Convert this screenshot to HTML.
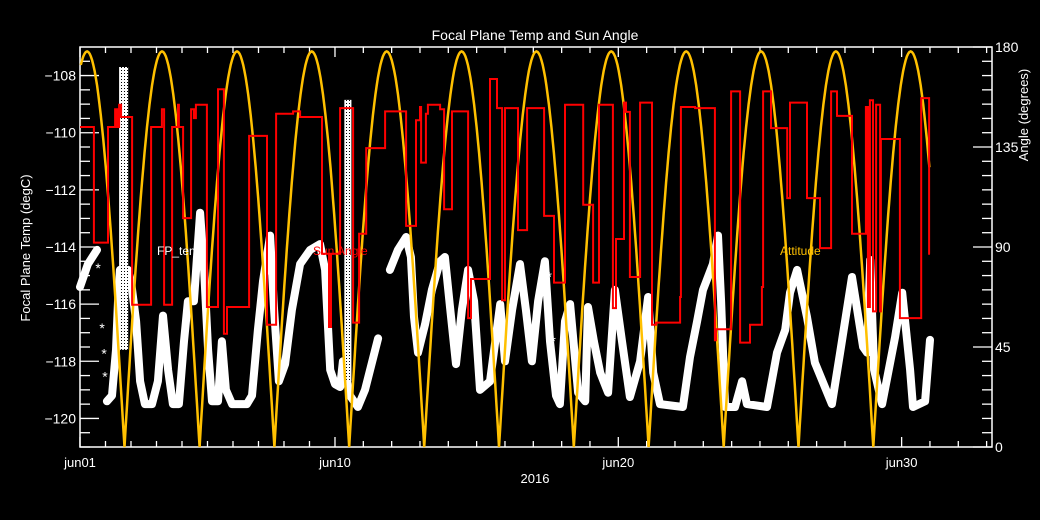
<!DOCTYPE html>
<html><head><meta charset="utf-8">
<style>
html,body{margin:0;padding:0;background:#000;}
svg{display:block;font-family:"Liberation Sans",sans-serif;}
</style></head>
<body>
<svg id="chart" width="1040" height="520" viewBox="0 0 1040 520" xmlns="http://www.w3.org/2000/svg">
<defs>
<pattern id="speck" width="3" height="3" patternUnits="userSpaceOnUse">
<rect width="3" height="3" fill="#fff"/><rect x="1" y="1" width="1" height="1" fill="#000"/>
</pattern>
</defs>
<rect x="0" y="0" width="1040" height="520" fill="#000"/>
<text x="535" y="40" fill="#fff" font-size="14" text-anchor="middle">Focal Plane Temp and Sun Angle</text>
<text x="535" y="483" fill="#fff" font-size="13" text-anchor="middle">2016</text>
<text transform="translate(30,248) rotate(-90)" fill="#fff" font-size="13" text-anchor="middle">Focal Plane Temp (degC)</text>
<text transform="translate(1028,115) rotate(-90)" fill="#fff" font-size="13" text-anchor="middle">Angle (degrees)</text>
<g id="axes"></g>
<g id="marks"></g>
<text x="157" y="255" fill="#fff" font-size="12">FP_temp</text>
<text x="313" y="255" fill="#ff0000" font-size="12">Sun Angle</text>
<text x="780" y="255" fill="#ffc000" font-size="12">Attitude</text>
</svg>
<script>
// ---- data ----
const xTickDays = [1, 10, 20, 30];
const xTickLabels = ["jun01", "jun10", "jun20", "jun30"];
const leftTicks = [-108, -110, -112, -114, -116, -118, -120];
const rightTicks = [0, 45, 90, 135, 180];

const fpDay = [1.00,1.28,1.60];
const fpTemp = [-115.4,-114.6,-114.1];
const fpDay2 = [1.95,2.13,2.27,2.34,2.41,2.69,2.80,2.98,3.12,3.29,3.54,3.75,3.93,4.11,4.28,4.49,4.67,4.81,5.02,5.24,5.38,5.52,5.66,5.87,6.01,6.15,6.37,6.89,7.07,7.28,7.46,7.71,7.85,8.02,8.24,8.48,8.77,9.12,9.47,9.65,9.83,10.00,10.18,10.28,10.53,10.81,11.06,11.52];
const fpTemp2 = [-119.4,-119.2,-117.6,-115.9,-114.8,-114.8,-115.2,-116.6,-118.7,-119.5,-119.5,-118.7,-116.4,-118.3,-119.5,-119.5,-117.3,-115.9,-115.9,-112.8,-114.8,-117.6,-119.4,-119.4,-117.3,-119.0,-119.5,-119.5,-119.2,-116.9,-115.2,-113.6,-116.2,-118.7,-118.1,-116.2,-114.6,-114.1,-113.9,-114.8,-118.3,-118.8,-118.9,-118.0,-119.2,-119.6,-119.0,-117.2];
const fpDay3 = [11.94,12.22,12.51,12.68,12.79,12.93,13.18,13.42,13.71,13.88,14.06,14.27,14.48,14.70,14.91,15.12,15.47,15.83,16.00,16.25,16.53,16.74,16.95,17.17,17.41,17.59,17.80,17.94,18.12,18.30,18.58,18.83,18.93,19.14,19.36,19.64,19.88,20.13,20.41,20.77,21.05,21.23,21.47,22.28,22.53,22.78,22.99,23.34,23.52,23.63,23.77,24.12,24.37,24.54,25.25,25.60,25.89,26.06,26.31,26.66,26.94,27.54,27.83,28.25,28.64,28.78,28.89,29.03,29.31,29.77,30.02,30.30,30.40,30.83,31.00];
const fpTemp3 = [-114.8,-114.1,-113.65,-114.35,-116.45,-117.7,-116.7,-115.5,-114.5,-114.35,-116.1,-118.1,-116.2,-114.8,-115.9,-119.0,-118.7,-116.0,-118.0,-116.2,-114.6,-116.2,-118.0,-115.9,-114.5,-117.3,-119.2,-119.5,-116.6,-116.0,-119.1,-119.4,-116.1,-117.3,-118.4,-119.1,-115.5,-117.3,-119.25,-118.0,-115.75,-118.4,-119.5,-119.6,-117.85,-116.6,-115.5,-114.6,-113.6,-115.9,-119.6,-119.6,-118.7,-119.5,-119.6,-117.7,-116.9,-115.6,-114.8,-116.45,-118.05,-119.5,-117.7,-115.05,-117.5,-117.7,-114.45,-118.3,-119.5,-117.15,-115.6,-118.3,-119.6,-119.4,-117.25];
const spikeDayStart = [2.38, 10.33];
const spikeDayEnd = [2.70, 10.58];
const spikeTop = [-107.7, -108.85];
const spikeBottom = [-117.6, -118.7];
const starDay = [1.64,1.78,1.85,1.88,17.48,17.56,17.70];
const starTemp = [-114.7,-116.8,-117.7,-118.5,-115.8,-115.0,-117.25];

const redDay = [1.00,1.49,1.99,2.24,2.31,2.38,2.45,2.84,3.51,3.89,3.97,4.25,4.46,4.49,4.64,4.92,5.02,5.09,5.48,5.87,6.08,6.19,6.97,7.60,7.92,8.52,8.77,9.54,9.79,9.86,10.18,10.64,10.85,11.10,11.77,12.51,12.86,13.00,13.04,13.21,13.28,13.71,13.85,14.13,14.70,14.80,15.47,15.72,15.90,16.00,16.46,16.78,17.38,17.73,18.12,18.76,19.11,19.32,19.81,19.92,20.20,20.27,20.41,20.77,21.19,21.33,22.18,22.21,22.71,23.41,23.45,23.98,24.30,24.65,25.07,25.11,25.39,25.96,26.06,26.66,27.12,27.51,27.72,28.25,28.74,28.81,28.88,28.99,29.10,29.24,29.27,29.94,30.69,30.97];
const redAngle = [144,92,144,152,144,154,148.5,64,144,152,64,144,154,144,103,152,148,154,63,161,51,63,140,55,150,151,148.5,87,54,87,152.5,56,96,134.5,151,99.5,147,153,128,150,154,152,107,151,58,75.6,165.6,152.5,66,152.5,97.6,152.5,104,74,154,109,74,154,62.5,93.6,155,150.8,76.5,155,55,56,67.5,153,152.5,48,53,160,47,55,72,160,143.5,112,155,112,89.5,160,149,96,153,63,156,61,154,61,138.6,58,157,87];
const redEndDay = 31.0;

const sunTroughDays = [-0.07,2.57,5.22,7.86,10.50,13.15,15.79,18.43,21.07,23.72,26.36,29.00,31.64];
const sunPeakAngles = [178,178,178,178,178,178,178,178,178,178,178,178];
const sunStartDay = 1.0, sunEndDay = 31.0;

// ---- scales ----
const PL=80, PR=992, PT=47, PB=447;
const dayMin=1, dayMax=33.19;
function X(d){ return PL + (d-dayMin)*(PR-PL)/(dayMax-dayMin); }
function Ty(t){ return PT + (-107 - t)*(PB-PT)/14; }
function Ay(a){ return PB - a*(PB-PT)/180; }

const NS="http://www.w3.org/2000/svg";
const axes=document.getElementById('axes');
const marks=document.getElementById('marks');
function mk(tag, attrs, parent){ const e=document.createElementNS(NS,tag); for(const k in attrs) e.setAttribute(k,attrs[k]); parent.appendChild(e); return e; }

const frame=mk('rect',{x:PL,y:PT,width:PR-PL,height:PB-PT,fill:'none',stroke:'#fff','stroke-width':1.5},axes);



for(let t=-121;t<=-107.001;t+=0.5){
  const y=Ty(t); const major=Math.abs(t-Math.round(t))<0.01 && Math.round(t)%2===0;
  const l=mk('line',{x1:PL,x2:PL+(major?19:10),y1:y,y2:y,stroke:'#fff','stroke-width':1.3},axes);
  
  
}
leftTicks.forEach(v=>{
  const tx=mk('text',{x:PL-4,y:Ty(v)+5,fill:'#fff','font-size':14,'text-anchor':'end'},axes);
  tx.textContent='\u2212'+Math.abs(v);
  
  
});
for(let i=0;i<=28;i++){
  const y=PB - i*(PB-PT)/28; const major=i%7===0;
  const l=mk('line',{x1:PR,x2:PR-(major?19:10),y1:y,y2:y,stroke:'#fff','stroke-width':1.3},axes);
  
  
}
rightTicks.forEach(v=>{
  const tx=mk('text',{x:PR+3,y:Ay(v)+5,fill:'#fff','font-size':14},axes);
  tx.textContent=String(v);
  
  
});
const minorDays=[];
for(let i=0;i<xTickDays.length-1;i++){ for(let j=0;j<10;j++) minorDays.push(xTickDays[i]+(xTickDays[i+1]-xTickDays[i])*j/10); }
for(let d=30;d<=dayMax;d+=1) minorDays.push(d);
minorDays.forEach(d=>{
  const major=xTickDays.includes(Math.round(d*1000)/1000);
  const x=X(d), len=major?10:6;
  const a=mk('line',{x1:x,x2:x,y1:PB,y2:PB-len,stroke:'#fff','stroke-width':1.3},axes);
  
  
  const b=mk('line',{x1:x,x2:x,y1:PT,y2:PT+len,stroke:'#fff','stroke-width':1.3},axes);
  
  
});
xTickDays.forEach((d,i)=>{
  const tx=mk('text',{x:X(d),y:467,fill:'#fff','font-size':13,'text-anchor':'middle'},axes);
  tx.textContent=xTickLabels[i];
  
  
});

function poly(days,temps){ return days.map((d,i)=>X(d).toFixed(1)+','+Ty(temps[i]).toFixed(1)).join(' '); }
[[fpDay,fpTemp],[fpDay2,fpTemp2],[fpDay3,fpTemp3]].forEach(([d,t])=>{
  const p=mk('polyline',{points:poly(d,t),fill:'none',stroke:'#fff','stroke-width':8,'stroke-linejoin':'round','stroke-linecap':'round'},marks);
  
  
});
spikeDayStart.forEach((d,i)=>{
  const r=mk('rect',{x:X(d),y:Ty(spikeTop[i]),width:X(spikeDayEnd[i])-X(d),height:Ty(spikeBottom[i])-Ty(spikeTop[i]),fill:'url(#speck)'},marks);
  
  
});
starDay.forEach((d,i)=>{
  const s=mk('text',{x:X(d),y:Ty(starTemp[i])+6,fill:'#fff','font-size':14,'text-anchor':'middle'},marks);
  s.textContent='*';
  
  
});

let sd='';
for(let k=0;k<sunPeakAngles.length;k++){
  const t0=sunTroughDays[k], t1=sunTroughDays[k+1];
  for(let s=0;s<=60;s++){
    const d=t0+(t1-t0)*s/60;
    if(d<sunStartDay||d>sunEndDay) continue;
    const a=sunPeakAngles[k]*Math.sin(Math.PI*(d-t0)/(t1-t0));
    sd+=(sd?'L':'M')+X(d).toFixed(1)+','+Ay(a).toFixed(1);
  }
}
const sun=mk('path',{d:sd,fill:'none',stroke:'#ffc000','stroke-width':2.5},marks);



let rd='M'+X(redDay[0]).toFixed(1)+','+Ay(redAngle[0]).toFixed(1);
for(let i=1;i<redDay.length;i++){ rd+='H'+X(redDay[i]).toFixed(1)+'V'+Ay(redAngle[i]).toFixed(1); }
rd+='H'+X(redEndDay).toFixed(1);
const red=mk('path',{d:rd,fill:'none',stroke:'#ff0000','stroke-width':2},marks);


</script>
</body></html>
